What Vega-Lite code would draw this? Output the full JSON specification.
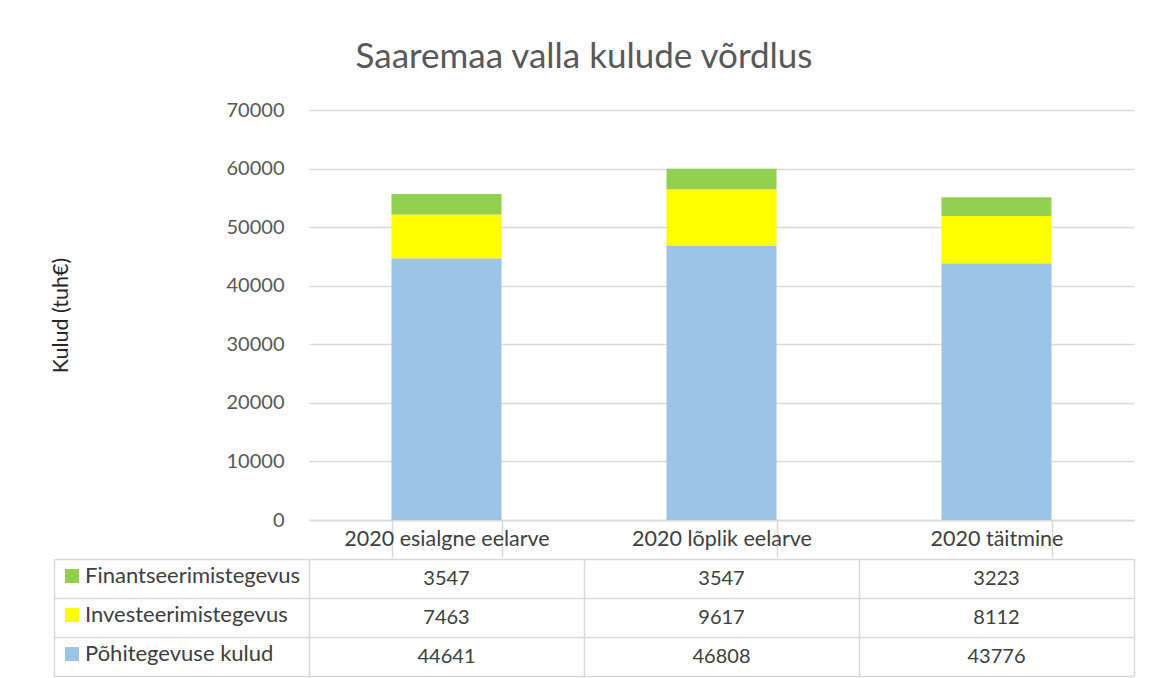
{
  "$schema": "https://vega.github.io/schema/vega-lite/v6.json",
  "background": "white",
  "padding": {"left": 50, "top": 40, "right": 19, "bottom": 3},
  "title": {
    "text": "Saaremaa valla kulude võrdlus",
    "font": "Lato",
    "fontSize": 35,
    "fontWeight": "normal",
    "color": "#595959",
    "anchor": "middle",
    "offset": 25,
    "dx": -8
  },
  "datasets": {
    "kulud": [
      {"cat": "2020 esialgne eelarve", "series": "Finantseerimistegevus", "value": 3547},
      {"cat": "2020 esialgne eelarve", "series": "Investeerimistegevus", "value": 7463},
      {"cat": "2020 esialgne eelarve", "series": "Põhitegevuse kulud", "value": 44641},
      {"cat": "2020 lõplik eelarve", "series": "Finantseerimistegevus", "value": 3547},
      {"cat": "2020 lõplik eelarve", "series": "Investeerimistegevus", "value": 9617},
      {"cat": "2020 lõplik eelarve", "series": "Põhitegevuse kulud", "value": 46808},
      {"cat": "2020 täitmine", "series": "Finantseerimistegevus", "value": 3223},
      {"cat": "2020 täitmine", "series": "Investeerimistegevus", "value": 8112},
      {"cat": "2020 täitmine", "series": "Põhitegevuse kulud", "value": 43776}
    ]
  },
  "spacing": 0,
  "vconcat": [
    {
      "width": 825,
      "height": 410,
      "data": {"name": "kulud"},
      "mark": {"type": "bar"},
      "encoding": {
        "x": {
          "field": "cat",
          "type": "nominal",
          "sort": ["2020 esialgne eelarve", "2020 lõplik eelarve", "2020 täitmine"],
          "scale": {"paddingInner": 0.6, "paddingOuter": 0.3},
          "axis": {
            "title": null,
            "labelAngle": 0,
            "labelLimit": 0,
            "domainColor": "#D9D9D9",
            "domainWidth": 1.5,
            "tickColor": "#D9D9D9",
            "tickWidth": 1.5,
            "tickSize": 37,
            "tickBand": "extent",
            "labelPadding": -29,
            "labelFont": "Lato",
            "labelFontSize": 21.5,
            "labelColor": "#404040"
          }
        },
        "y": {
          "field": "value",
          "type": "quantitative",
          "stack": "zero",
          "scale": {"domain": [0, 70000], "nice": false},
          "axis": {
            "values": [0, 10000, 20000, 30000, 40000, 50000, 60000, 70000],
            "format": "d",
            "title": "Kulud (tuh€)",
            "titleFont": "Lato",
            "titleFontSize": 21.5,
            "titleFontWeight": "normal",
            "titleColor": "#262626",
            "titlePadding": 154,
            "domain": false,
            "ticks": false,
            "labelPadding": 25,
            "labelFont": "Lato",
            "labelFontSize": 20,
            "labelColor": "#595959",
            "gridColor": "#D9D9D9",
            "gridWidth": 1.5
          }
        },
        "color": {
          "field": "series",
          "type": "nominal",
          "scale": {
            "domain": ["Finantseerimistegevus", "Investeerimistegevus", "Põhitegevuse kulud"],
            "range": ["#92D050", "#FFFF00", "#9DC3E6"]
          },
          "legend": {
            "title": null,
            "orient": "none",
            "legendX": -248,
            "legendY": 455,
            "symbolType": "square",
            "symbolSize": 196,
            "symbolStrokeWidth": 0,
            "symbolOpacity": 1,
            "labelFont": "Lato",
            "labelFontSize": 22,
            "labelColor": "#404040",
            "labelOffset": 2,
            "labelLimit": 300,
            "rowPadding": 17
          }
        },
        "order": {"field": "series", "sort": "descending"}
      }
    },
    {
      "width": 825,
      "height": 117,
      "data": {"name": "kulud"},
      "mark": {"type": "text", "font": "Lato", "fontSize": 20, "color": "#404040", "baseline": "middle"},
      "encoding": {
        "x": {
          "field": "cat",
          "type": "nominal",
          "sort": ["2020 esialgne eelarve", "2020 lõplik eelarve", "2020 täitmine"],
          "scale": {"type": "band", "paddingInner": 0, "paddingOuter": 0},
          "axis": {
            "orient": "top",
            "title": null,
            "labels": false,
            "ticks": false,
            "domain": false,
            "grid": true,
            "gridColor": "#D9D9D9",
            "gridWidth": 1.5,
            "tickBand": "extent"
          }
        },
        "y": {
          "field": "series",
          "type": "nominal",
          "sort": ["Finantseerimistegevus", "Investeerimistegevus", "Põhitegevuse kulud"],
          "scale": {"type": "band", "paddingInner": 0, "paddingOuter": 0},
          "axis": {
            "title": null,
            "labels": false,
            "grid": true,
            "gridColor": "#D9D9D9",
            "gridWidth": 1.5,
            "tickBand": "extent",
            "ticks": true,
            "tickSize": -255,
            "tickColor": "#D9D9D9",
            "tickWidth": 1.5,
            "offset": 255,
            "domain": true,
            "domainColor": "#D9D9D9",
            "domainWidth": 1.5
          }
        },
        "text": {"field": "value", "type": "quantitative", "format": "d"}
      }
    }
  ],
  "config": {
    "view": {"stroke": null},
    "font": "Lato"
  }
}
